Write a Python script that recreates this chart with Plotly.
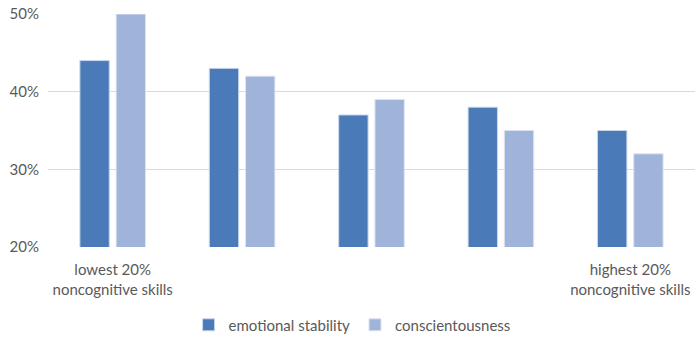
import plotly.graph_objects as go

categories = [0, 1, 2, 3, 4]
tick_labels = ["lowest 20%<br>noncognitive skills", "", "", "", "highest 20%<br>noncognitive skills"]
emotional_stability = [44, 43, 37, 38, 35]
conscientiousness = [50, 42, 39, 35, 32]

fig = go.Figure()
fig.add_trace(go.Bar(x=categories, y=emotional_stability, name="emotional stability",
                     marker=dict(color="#4A7AB7", line=dict(color="#C9D6EA", width=1))))
fig.add_trace(go.Bar(x=categories, y=conscientiousness, name="conscientousness",
                     marker=dict(color="#A0B4DA", line=dict(color="#DCE4F1", width=1))))

fig.update_layout(
    width=697, height=343,
    margin=dict(l=48, r=2, t=14, b=94),
    paper_bgcolor="white", plot_bgcolor="white",
    barmode="group", bargap=0.44, bargroupgap=0.19,
    font=dict(family="Lato, Open Sans, sans-serif", size=15, color="#595959"),
    showlegend=True,
    legend=dict(orientation="h", x=0.47, xanchor="center", y=-0.335, yanchor="middle",
                font=dict(size=15, color="#595959"), itemwidth=30, traceorder="normal"),
    xaxis=dict(tickvals=categories, ticktext=tick_labels, range=[-0.5, 4.5],
               showgrid=False, zeroline=False, showline=False, ticks="",
               ticklabelstandoff=12,
               tickfont=dict(size=15, color="#595959")),
    yaxis=dict(range=[20, 50], tickvals=[20, 30, 40, 50], ticktext=["20%", "30%", "40%", "50%"],
               showgrid=True, gridcolor="#D9D9D9", gridwidth=1, zeroline=False,
               showline=False, ticks="", ticklabelstandoff=8,
               tickfont=dict(size=15, color="#595959")),
)

fig.write_html("out.html")
